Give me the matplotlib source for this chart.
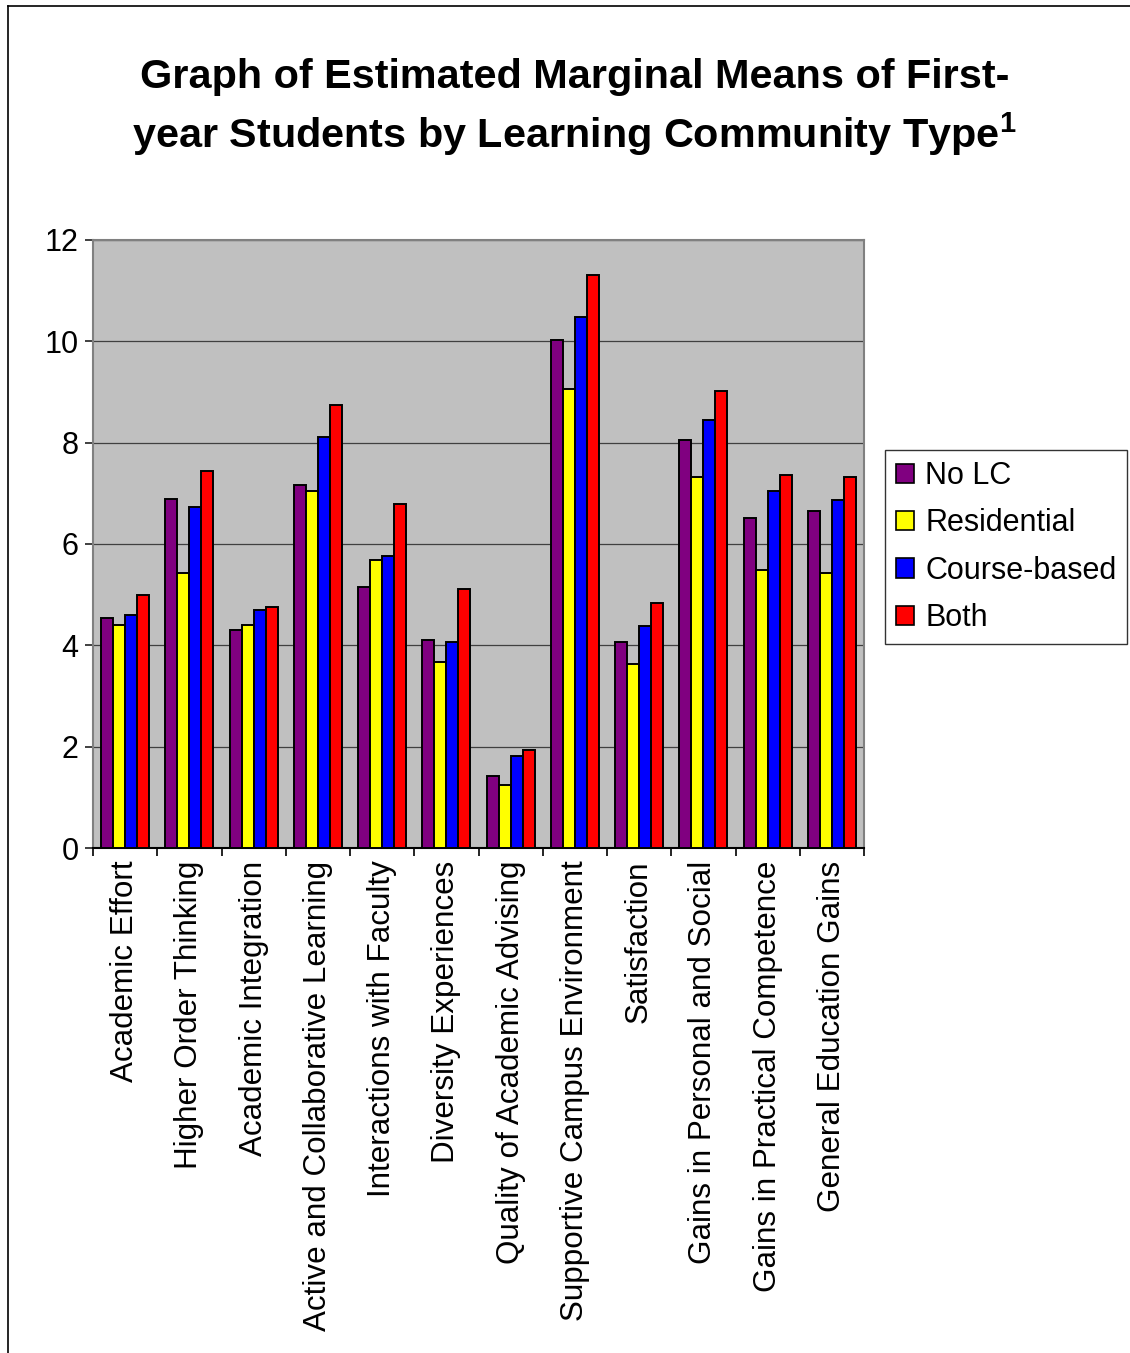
import numpy as np
import matplotlib
matplotlib.use('Agg')
import matplotlib.pyplot as plt
from matplotlib.lines import Line2D
from matplotlib.patches import Patch

plt.rcParams['font.family'] = ['Liberation Sans', 'DejaVu Sans']
plt.rcParams['mathtext.fontset'] = 'custom'
plt.rcParams['mathtext.rm'] = 'Liberation Sans:bold'

# Estimated marginal means by learning community type
categories = ['Academic Effort', 'Higher Order Thinking', 'Academic Integration',
              'Active and Collaborative Learning', 'Interactions with Faculty',
              'Diversity Experiences', 'Quality of Academic Advising',
              'Supportive Campus Environment', 'Satisfaction',
              'Gains in Personal and Social', 'Gains in Practical Competence',
              'General Education Gains']
series_names = ['No LC', 'Residential', 'Course-based', 'Both']
no_lc = [4.53, 6.89, 4.30, 7.16, 5.15, 4.10, 1.43, 10.03, 4.07, 8.05, 6.51, 6.66]
residential = [4.41, 5.42, 4.41, 7.05, 5.69, 3.68, 1.24, 9.05, 3.64, 7.32, 5.49, 5.42]
course_based = [4.60, 6.74, 4.69, 8.12, 5.77, 4.07, 1.82, 10.49, 4.38, 8.44, 7.05, 6.86]
both = [4.99, 7.44, 4.76, 8.75, 6.78, 5.11, 1.94, 11.31, 4.84, 9.02, 7.36, 7.32]
yticks = [0, 2, 4, 6, 8, 10, 12]

colors = ['#800080', '#FFFF00', '#0000FF', '#FF0000']
W, H = 1130, 1353

fig = plt.figure(figsize=(W / 100, H / 100), dpi=100)
fig.patch.set_facecolor('white')

# outer frame (left and top edges visible)
fig.add_artist(Line2D([8 / W, 8 / W], [0, 1 - 6 / H], transform=fig.transFigure,
                      color='black', lw=1.2))
fig.add_artist(Line2D([8 / W, 1], [1 - 6 / H, 1 - 6 / H], transform=fig.transFigure,
                      color='black', lw=1.2))

fig.text(0.509, 1 - 88 / H, 'Graph of Estimated Marginal Means of First-',
         ha='center', va='baseline', fontsize=29.8, fontweight='bold')
fig.text(0.508, 1 - 148 / H, r'year Students by Learning Community Type$^{1}$',
         ha='center', va='baseline', fontsize=29.8, fontweight='bold')

ax = fig.add_axes([93 / W, 1 - 848 / H, (864 - 93) / W, (848 - 240) / H])
ax.set_facecolor('#C0C0C0')

x = np.arange(len(categories))
bw = 0.1875
for i, (vals, name) in enumerate(zip([no_lc, residential, course_based, both], series_names)):
    ax.bar(x + (i - 1.5) * bw, vals, width=bw, color=colors[i], edgecolor='black',
           linewidth=1.4, label=name, zorder=3)

ax.set_xlim(-0.5, len(categories) - 0.5)
ax.set_ylim(0, 12)
ax.set_yticks(yticks)
ax.yaxis.grid(True, color='#404040', linewidth=0.9)
ax.set_axisbelow(True)

ax.set_xticks(x)
ax.set_xticklabels(categories, rotation=90, fontsize=22.6, va='top', ha='center')
ax.set_xticks(np.arange(len(categories) + 1) - 0.5, minor=True)
ax.tick_params(axis='x', which='major', length=0, pad=9)
ax.tick_params(axis='x', which='minor', length=6, width=1.2, direction='out', color='black')
ax.tick_params(axis='y', length=5.5, width=1.2, direction='out', pad=5, labelsize=22,
               color='#202020')

for side in ['top', 'right', 'left']:
    ax.spines[side].set_color('#808080')
    ax.spines[side].set_linewidth(1.5)
ax.spines['bottom'].set_color('black')
ax.spines['bottom'].set_linewidth(1.5)

handles = [Patch(facecolor=c, edgecolor='black', linewidth=1.2) for c in colors]
leg = fig.legend(handles, series_names, loc='upper left',
                 bbox_to_anchor=(885 / W, 1 - 450 / H), fontsize=22, frameon=True,
                 fancybox=False, edgecolor='black', handlelength=0.6, handleheight=0.6,
                 handletextpad=0.35, labelspacing=0.57, borderpad=0.36, borderaxespad=0)
leg.get_frame().set_linewidth(1.0)

fig.savefig('out.png', dpi=100, facecolor='white')
